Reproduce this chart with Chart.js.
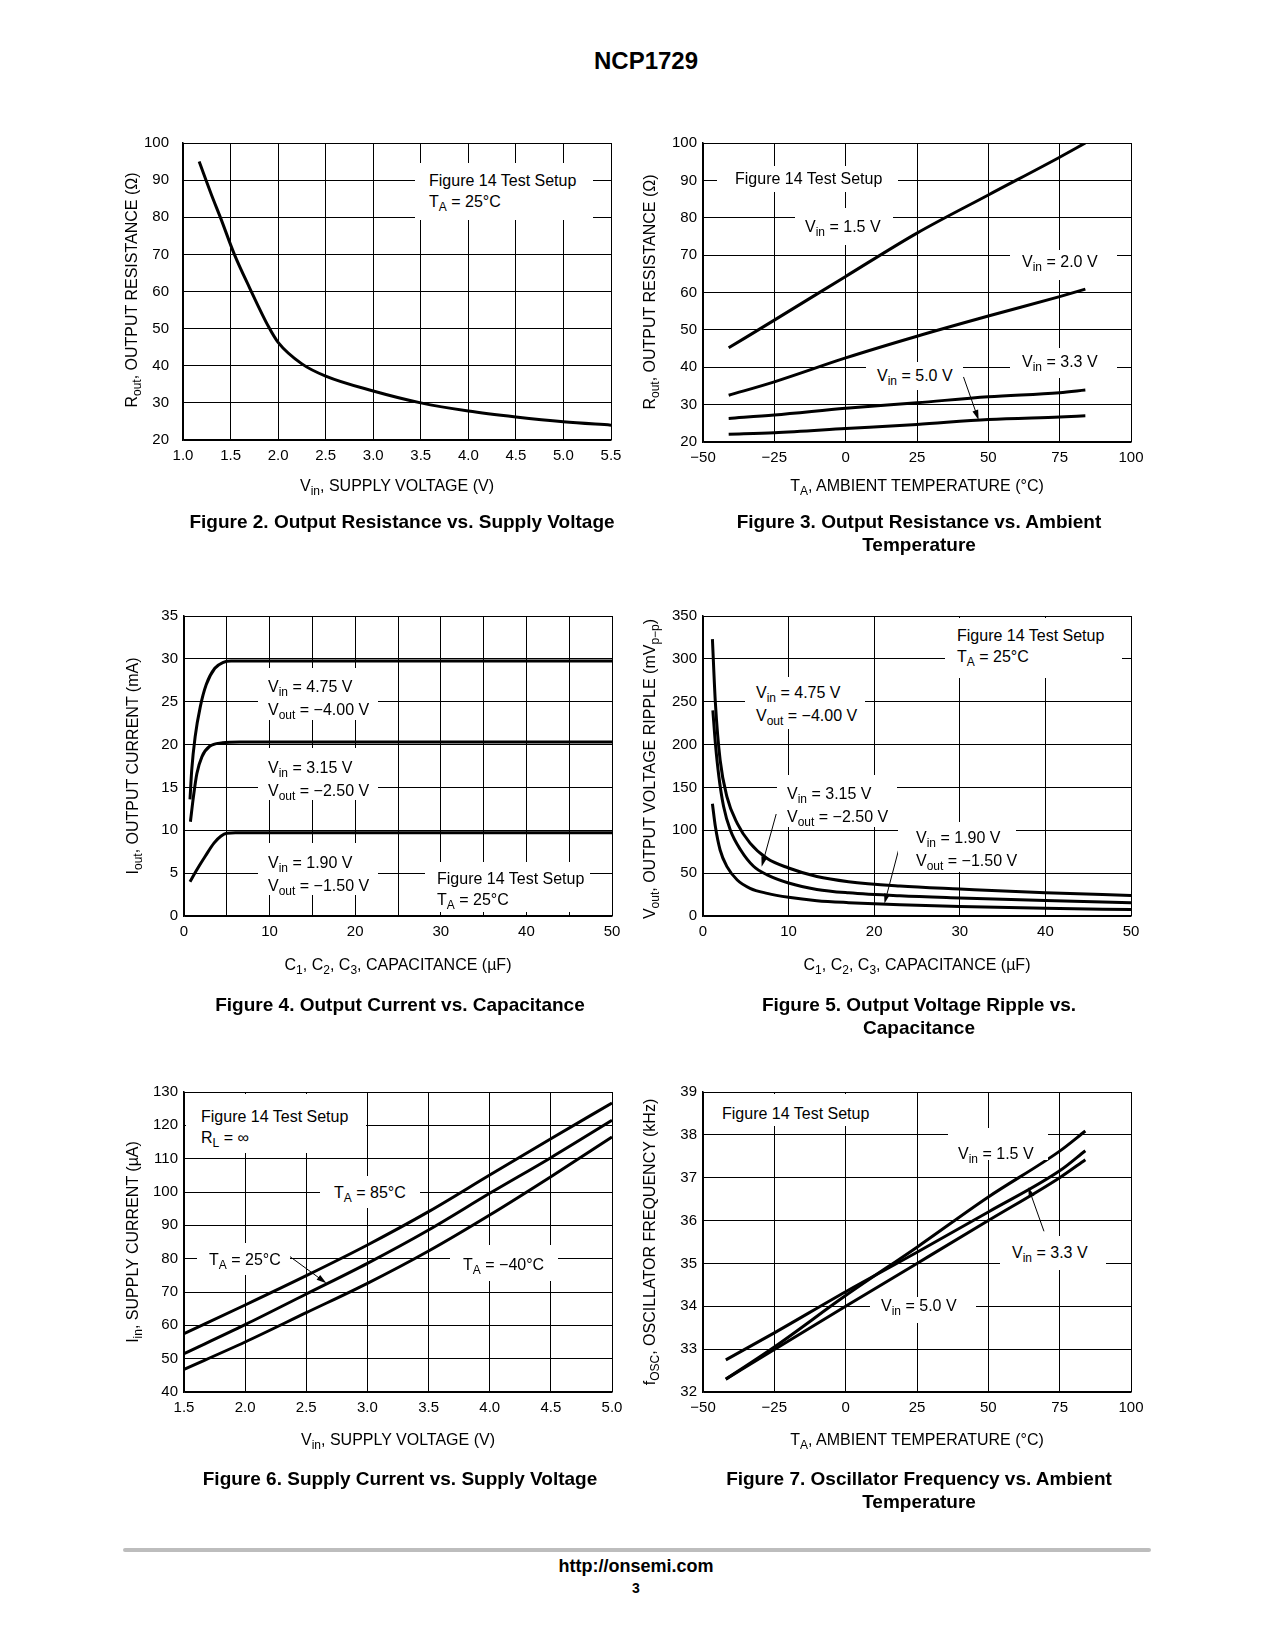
<!DOCTYPE html>
<html>
<head>
<meta charset="utf-8">
<title>NCP1729</title>
<script src="https://cdn.jsdelivr.net/npm/chart.js@4.4.0/dist/chart.umd.min.js"></script>
<style>
body { margin: 0; background: #fff; color: #000; font-family: "Liberation Sans", Arial, sans-serif; }
#page { position: relative; width: 1275px; height: 1650px; overflow: hidden; }
canvas { position: absolute; }
.box { position: absolute; background: #fff; }
.t { position: absolute; white-space: nowrap; font-size: 16px; line-height: 21px; }
.s { font-size: 12px; position: relative; top: 4px; }
.yt { position: absolute; width: 400px; height: 20px; line-height: 20px; text-align: center; font-size: 16px; white-space: nowrap; transform: rotate(-90deg); }
.xt { position: absolute; width: 600px; height: 20px; line-height: 20px; text-align: center; font-size: 16px; white-space: nowrap; }
.cap { position: absolute; width: 600px; text-align: center; font-weight: bold; font-size: 19px; line-height: 23px; }
#title { position: absolute; left: 446px; top: 47px; width: 400px; text-align: center; font-weight: bold; font-size: 24px; line-height: 28px; }
#rule { position: absolute; left: 123px; top: 1548px; width: 1028px; height: 4px; border-radius: 2px; background: #bdbdbd; }
#url { position: absolute; left: 436px; top: 1555px; width: 400px; text-align: center; font-weight: bold; font-size: 18px; line-height: 22px; }
#pg { position: absolute; left: 436px; top: 1580px; width: 400px; text-align: center; font-weight: bold; font-size: 14px; line-height: 16px; }
</style>
</head>
<body>
<div id="page">
  <div id="title">NCP1729</div>

  <!-- Figure 2 -->
  <div class="box" style="left:415px;top:163px;width:178px;height:57px"></div>
  <div class="t" style="left:429px;top:169.5px">Figure 14 Test Setup<br>T<span class="s">A</span> = 25°C</div>
  <div class="yt" style="left:-68px;top:280px">R<span class="s">out</span>, OUTPUT RESISTANCE (Ω)</div>
  <div class="xt" style="left:97px;top:476px">V<span class="s">in</span>, SUPPLY VOLTAGE (V)</div>
  <div class="cap" style="left:102px;top:510px">Figure 2. Output Resistance vs. Supply Voltage</div>

  <!-- Figure 3 -->
  <div class="box" style="left:717px;top:166px;width:181px;height:26px"></div>
  <div class="t" style="left:735px;top:167.5px">Figure 14 Test Setup</div>
  <div class="box" style="left:795px;top:208px;width:98px;height:37px"></div>
  <div class="t" style="left:805px;top:215.5px">V<span class="s">in</span> = 1.5 V</div>
  <div class="box" style="left:1010px;top:250px;width:107px;height:30px"></div>
  <div class="t" style="left:1022px;top:251px">V<span class="s">in</span> = 2.0 V</div>
  <div class="box" style="left:1010px;top:348px;width:107px;height:30px"></div>
  <div class="t" style="left:1022px;top:351px">V<span class="s">in</span> = 3.3 V</div>
  <div class="box" style="left:866px;top:362px;width:97px;height:28px"></div>
  <div class="t" style="left:877px;top:364.5px">V<span class="s">in</span> = 5.0 V</div>
  <div class="yt" style="left:450px;top:282px">R<span class="s">out</span>, OUTPUT RESISTANCE (Ω)</div>
  <div class="xt" style="left:617px;top:476px">T<span class="s">A</span>, AMBIENT TEMPERATURE (°C)</div>
  <div class="cap" style="left:619px;top:510px">Figure 3. Output Resistance vs. Ambient<br>Temperature</div>

  <!-- Figure 4 -->
  <div class="box" style="left:258px;top:668px;width:120px;height:52px"></div>
  <div class="t" style="left:268px;top:675.5px">V<span class="s">in</span> = 4.75 V<br>V<span class="s">out</span> = −4.00 V</div>
  <div class="box" style="left:258px;top:748px;width:120px;height:52px"></div>
  <div class="t" style="left:268px;top:756.5px">V<span class="s">in</span> = 3.15 V<br>V<span class="s">out</span> = −2.50 V</div>
  <div class="box" style="left:258px;top:843px;width:120px;height:52px"></div>
  <div class="t" style="left:268px;top:851.5px">V<span class="s">in</span> = 1.90 V<br>V<span class="s">out</span> = −1.50 V</div>
  <div class="box" style="left:425px;top:862px;width:165px;height:50px"></div>
  <div class="t" style="left:437px;top:867.5px">Figure 14 Test Setup<br>T<span class="s">A</span> = 25°C</div>
  <div class="yt" style="left:-67px;top:756px">I<span class="s">out</span>, OUTPUT CURRENT (mA)</div>
  <div class="xt" style="left:98px;top:955px">C<span class="s">1</span>, C<span class="s">2</span>, C<span class="s">3</span>, CAPACITANCE (µF)</div>
  <div class="cap" style="left:100px;top:993px">Figure 4. Output Current vs. Capacitance</div>

  <!-- Figure 5 -->
  <div class="box" style="left:945px;top:618px;width:177px;height:60px"></div>
  <div class="t" style="left:957px;top:624.5px">Figure 14 Test Setup<br>T<span class="s">A</span> = 25°C</div>
  <div class="box" style="left:745px;top:677px;width:120px;height:52px"></div>
  <div class="t" style="left:756px;top:681.5px">V<span class="s">in</span> = 4.75 V<br>V<span class="s">out</span> = −4.00 V</div>
  <div class="box" style="left:777px;top:775px;width:120px;height:52px"></div>
  <div class="t" style="left:787px;top:782.5px">V<span class="s">in</span> = 3.15 V<br>V<span class="s">out</span> = −2.50 V</div>
  <div class="box" style="left:898px;top:822px;width:118px;height:50px"></div>
  <div class="t" style="left:916px;top:826.5px">V<span class="s">in</span> = 1.90 V<br>V<span class="s">out</span> = −1.50 V</div>
  <div class="yt" style="left:450px;top:759px">V<span class="s">out</span>, OUTPUT VOLTAGE RIPPLE (mV<span class="s">p−p</span>)</div>
  <div class="xt" style="left:617px;top:955px">C<span class="s">1</span>, C<span class="s">2</span>, C<span class="s">3</span>, CAPACITANCE (µF)</div>
  <div class="cap" style="left:619px;top:993px">Figure 5. Output Voltage Ripple vs.<br>Capacitance</div>

  <!-- Figure 6 -->
  <div class="box" style="left:186px;top:1094px;width:180px;height:59px"></div>
  <div class="t" style="left:201px;top:1105.5px">Figure 14 Test Setup<br>R<span class="s">L</span> = ∞</div>
  <div class="box" style="left:320px;top:1176px;width:100px;height:32px"></div>
  <div class="t" style="left:334px;top:1181.5px">T<span class="s">A</span> = 85°C</div>
  <div class="box" style="left:197px;top:1243px;width:93px;height:32px"></div>
  <div class="t" style="left:209px;top:1248.5px">T<span class="s">A</span> = 25°C</div>
  <div class="box" style="left:450px;top:1245px;width:108px;height:36px"></div>
  <div class="t" style="left:463px;top:1253.5px">T<span class="s">A</span> = −40°C</div>
  <div class="yt" style="left:-67px;top:1232px">I<span class="s">in</span>, SUPPLY CURRENT (µA)</div>
  <div class="xt" style="left:98px;top:1430px">V<span class="s">in</span>, SUPPLY VOLTAGE (V)</div>
  <div class="cap" style="left:100px;top:1467px">Figure 6. Supply Current vs. Supply Voltage</div>

  <!-- Figure 7 -->
  <div class="box" style="left:708px;top:1094px;width:180px;height:32px"></div>
  <div class="t" style="left:722px;top:1102.5px">Figure 14 Test Setup</div>
  <div class="box" style="left:948px;top:1128px;width:100px;height:32px"></div>
  <div class="t" style="left:958px;top:1142.5px">V<span class="s">in</span> = 1.5 V</div>
  <div class="box" style="left:1000px;top:1236px;width:106px;height:34px"></div>
  <div class="t" style="left:1012px;top:1241.5px">V<span class="s">in</span> = 3.3 V</div>
  <div class="box" style="left:870px;top:1297px;width:106px;height:26px"></div>
  <div class="t" style="left:881px;top:1294.5px">V<span class="s">in</span> = 5.0 V</div>
  <div class="yt" style="left:450px;top:1232px">f<span class="s">OSC</span>, OSCILLATOR FREQUENCY (kHz)</div>
  <div class="xt" style="left:617px;top:1430px">T<span class="s">A</span>, AMBIENT TEMPERATURE (°C)</div>
  <div class="cap" style="left:619px;top:1467px">Figure 7. Oscillator Frequency vs. Ambient<br>Temperature</div>

  <div id="rule"></div>
  <div id="url">http://onsemi.com</div>
  <div id="pg">3</div>
</div>

<script>
// ---- Figure 2: Rout vs Vin ----
const fig2Vin = [1.17, 1.3, 1.4, 1.54, 1.7, 1.9, 2.0, 2.25, 2.5, 3.0, 3.5, 4.0, 4.5, 5.0, 5.5];
const fig2Rout = [95, 86, 79.5, 70, 61, 50.5, 46.3, 40.5, 37.2, 33.2, 30.0, 27.8, 26.2, 24.9, 24.0];
const fig2XTicks = [1.0, 1.5, 2.0, 2.5, 3.0, 3.5, 4.0, 4.5, 5.0, 5.5];
const fig2XLabels = ['1.0', '1.5', '2.0', '2.5', '3.0', '3.5', '4.0', '4.5', '5.0', '5.5'];
const fig2YTicks = [20, 30, 40, 50, 60, 70, 80, 90, 100];

// ---- Figure 3: Rout vs TA ----
const fig3Temp = [-41, -25, 0, 25, 50, 75, 84];
const fig3Vin15 = [45.2, 52.6, 64.3, 75.9, 86.1, 96.2, 100];
const fig3Vin20 = [32.5, 36.1, 42.5, 48.3, 53.7, 58.9, 60.9];
const fig3Vin33 = [26.3, 27.2, 29.0, 30.5, 32.1, 33.2, 33.9];
const fig3Vin50 = [22.1, 22.5, 23.6, 24.7, 26.0, 26.7, 27.0];
const tempTicks = [-50, -25, 0, 25, 50, 75, 100];
const tempLabels = ['\u221250', '\u221225', '0', '25', '50', '75', '100'];
const fig3YTicks = [20, 30, 40, 50, 60, 70, 80, 90, 100];

// ---- Figure 4: Iout vs capacitance ----
const fig4CapHi = [0.7, 0.9, 1.3, 1.9, 2.6, 3.6, 4.6, 5.5, 50];
const fig4Iout475 = [13.6, 17.0, 20.9, 24.4, 27.0, 28.9, 29.6, 29.75, 29.75];
const fig4CapMid = [0.75, 1.1, 1.5, 2.1, 3.0, 4.5, 6.5, 50];
const fig4Iout315 = [11.0, 13.9, 16.6, 18.6, 19.8, 20.2, 20.3, 20.3];
const fig4CapLo = [0.7, 1.5, 2.5, 3.5, 4.3, 5.0, 6.0, 50];
const fig4Iout190 = [4.0, 5.4, 7.0, 8.5, 9.3, 9.65, 9.7, 9.7];
const fig4XTicks = [0, 5, 10, 15, 20, 25, 30, 35, 40, 45, 50];
const fig4XLabels = ['0', '', '10', '', '20', '', '30', '', '40', '', '50'];
const fig4YTicks = [0, 5, 10, 15, 20, 25, 30, 35];

// ---- Figure 5: ripple vs capacitance ----
const fig5CapHi = [1.1, 1.45, 2.0, 2.8, 4.0, 5.5, 7.5, 10, 13.3, 17, 23, 30, 40, 50];
const fig5Rip475 = [323, 248, 182, 139, 108, 85, 67, 56, 46, 40, 35, 31.5, 27, 24];
const fig5CapMid = [1.15, 1.45, 1.85, 2.4, 3.2, 4.4, 5.9, 7.5, 10, 13.3, 17, 23, 30, 40, 50];
const fig5Rip315 = [240, 201, 163, 128, 100, 77, 58, 48, 38.5, 31, 27, 23.5, 21, 18, 15.5];
const fig5CapLo = [1.1, 1.45, 2.0, 2.8, 4.0, 5.5, 7.5, 10, 13.3, 17, 23, 30, 40, 50];
const fig5Rip190 = [131, 104, 77, 57.6, 42, 32.3, 26.4, 21.8, 17.9, 15.6, 13, 11, 9, 7.5];
const fig5XTicks = [0, 10, 20, 30, 40, 50];
const fig5XLabels = ['0', '10', '20', '30', '40', '50'];
const fig5YTicks = [0, 50, 100, 150, 200, 250, 300, 350];

// ---- Figure 6: Iin vs Vin ----
const fig6Vin = [1.5, 2.0, 2.5, 3.0, 3.5, 4.0, 4.5, 5.0];
const fig6T85 = [57.5, 66.1, 74.9, 84.1, 94.1, 105.1, 116.0, 126.7];
const fig6T25 = [51.5, 60.2, 69.4, 78.6, 88.6, 99.6, 110.3, 121.5];
const fig6Tm40 = [46.8, 55.0, 63.8, 72.6, 82.3, 93.1, 104.6, 116.5];
const fig6XTicks = [1.5, 2.0, 2.5, 3.0, 3.5, 4.0, 4.5, 5.0];
const fig6XLabels = ['1.5', '2.0', '2.5', '3.0', '3.5', '4.0', '4.5', '5.0'];
const fig6YTicks = [40, 50, 60, 70, 80, 90, 100, 110, 120, 130];

// ---- Figure 7: fosc vs TA ----
const fig7Temp = [-42, -25, 0, 25, 50, 75, 84];
const fig7Vin15 = [32.3, 33.05, 34.25, 35.38, 36.55, 37.62, 38.09];
const fig7Vin33 = [32.75, 33.38, 34.34, 35.26, 36.2, 37.16, 37.63];
const fig7Vin50 = [32.3, 32.99, 34.0, 35.0, 36.0, 37.0, 37.42];
const fig7YTicks = [32, 33, 34, 35, 36, 37, 38, 39];

Chart.defaults.font.family = '"Liberation Sans", Arial, sans-serif';
Chart.defaults.color = '#000';

// leader arrows, given in data units: [fromX, fromY, toX, toY]
const leaderPlugin = {
    id: 'leaders',
    afterDatasetsDraw(chart, args, opts) {
        const ctx = chart.ctx, sx = chart.scales.x, sy = chart.scales.y;
        (opts.list || []).forEach(a => {
            const x0 = sx.getPixelForValue(a[0]), y0 = sy.getPixelForValue(a[1]);
            const x1 = sx.getPixelForValue(a[2]), y1 = sy.getPixelForValue(a[3]);
            const ang = Math.atan2(y1 - y0, x1 - x0);
            const c = Math.cos(ang), s = Math.sin(ang);
            ctx.save();
            ctx.strokeStyle = '#000';
            ctx.fillStyle = '#000';
            ctx.lineWidth = 1;
            ctx.beginPath();
            ctx.moveTo(x0, y0);
            ctx.lineTo(x1 - 6 * c, y1 - 6 * s);
            ctx.stroke();
            ctx.beginPath();
            ctx.moveTo(x1, y1);
            ctx.lineTo(x1 - 10 * c + 3 * s, y1 - 10 * s - 3 * c);
            ctx.lineTo(x1 - 10 * c - 3 * s, y1 - 10 * s + 3 * c);
            ctx.closePath();
            ctx.fill();
            ctx.restore();
        });
    }
};

function series(xs, ys) {
    return {
        data: xs.map((x, i) => ({ x: x, y: ys[i] })),
        showLine: true,
        borderColor: '#000',
        borderWidth: 3,
        pointRadius: 0,
        cubicInterpolationMode: 'monotone',
        fill: false
    };
}

function axis(min, max, values, labels, isX, pad) {
    return {
        type: 'linear',
        min: min,
        max: max,
        afterBuildTicks: s => { s.ticks = values.map(v => ({ value: v })); },
        afterFit: s => { if (isX) s.height = 40; else s.width = 70; },
        ticks: {
            autoSkip: false,
            maxRotation: 0,
            padding: pad,
            color: '#000',
            font: { size: 15 },
            callback: (v, i) => labels[i]
        },
        grid: { color: '#000', lineWidth: 1, drawTicks: false },
        border: { color: '#000', width: 1.5 }
    };
}

function makeChart(rect, datasets, xAxis, yAxis, arrows) {
    const cv = document.createElement('canvas');
    const w = rect.w + 100, h = rect.h + 60;
    cv.width = w;
    cv.height = h;
    cv.style.left = (rect.x - 70) + 'px';
    cv.style.top = (rect.y - 20) + 'px';
    cv.style.width = w + 'px';
    cv.style.height = h + 'px';
    document.getElementById('page').insertBefore(cv, document.getElementById('title'));
    return new Chart(cv.getContext('2d'), {
        type: 'scatter',
        data: { datasets: datasets },
        options: {
            responsive: false,
            animation: false,
            devicePixelRatio: 1,
            layout: { padding: { left: 0, top: 20, right: 30, bottom: 0 } },
            plugins: { legend: { display: false }, tooltip: { enabled: false }, leaders: { list: arrows } },
            scales: { x: xAxis, y: yAxis }
        },
        plugins: [leaderPlugin]
    });
}

const str = a => a.map(String);

makeChart({ x: 183, y: 140, w: 428, h: 300 },
    [series(fig2Vin, fig2Rout)],
    axis(1.0, 5.5, fig2XTicks, fig2XLabels, true, 7),
    axis(20, 100, fig2YTicks, str(fig2YTicks), false, 14),
    []);

makeChart({ x: 703, y: 143, w: 428, h: 299 },
    [series(fig3Temp, fig3Vin15), series(fig3Temp, fig3Vin20), series(fig3Temp, fig3Vin33), series(fig3Temp, fig3Vin50)],
    axis(-50, 100, tempTicks, tempLabels, true, 7),
    axis(20, 100, fig3YTicks, str(fig3YTicks), false, 6),
    [[41.3, 37.4, 46.6, 25.9]]);

makeChart({ x: 184, y: 616, w: 428, h: 300 },
    [series(fig4CapHi, fig4Iout475), series(fig4CapMid, fig4Iout315), series(fig4CapLo, fig4Iout190)],
    axis(0, 50, fig4XTicks, fig4XLabels, true, 7),
    axis(0, 35, fig4YTicks, str(fig4YTicks), false, 6),
    []);

makeChart({ x: 703, y: 616, w: 428, h: 300 },
    [series(fig5CapHi, fig5Rip475), series(fig5CapMid, fig5Rip315), series(fig5CapLo, fig5Rip190)],
    axis(0, 50, fig5XTicks, fig5XLabels, true, 7),
    axis(0, 350, fig5YTicks, str(fig5YTicks), false, 6),
    [[8.55, 119, 6.85, 57.4], [22.9, 79, 21.2, 14.5]]);

makeChart({ x: 184, y: 1092, w: 428, h: 300 },
    [series(fig6Vin, fig6T85), series(fig6Vin, fig6T25), series(fig6Vin, fig6Tm40)],
    axis(1.5, 5.0, fig6XTicks, fig6XLabels, true, 7),
    axis(40, 130, fig6YTicks, str(fig6YTicks), false, 6),
    [[2.367, 80.6, 2.665, 72.6]]);

makeChart({ x: 703, y: 1092, w: 428, h: 300 },
    [series(fig7Temp, fig7Vin15), series(fig7Temp, fig7Vin33), series(fig7Temp, fig7Vin50)],
    axis(-50, 100, tempTicks, tempLabels, true, 7),
    axis(32, 39, fig7YTicks, str(fig7YTicks), false, 6),
    [[69.5, 35.75, 64.0, 36.78]]);
</script>
</body>
</html>
